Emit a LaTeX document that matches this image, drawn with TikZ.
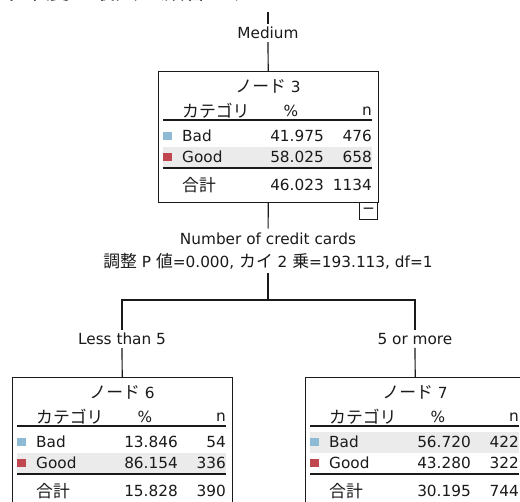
\documentclass[tikz,border=0pt]{standalone}
\usepackage{fontspec}
\setmainfont{DejaVu Sans}
\newfontfamily\ja[Scale=1.1]{Noto Sans CJK JP}
\usepackage{tikz}
\definecolor{badblue}{HTML}{8EBAD3}
\definecolor{goodred}{HTML}{C0474F}
\definecolor{bandgray}{HTML}{EBEBEB}
\definecolor{ink}{HTML}{1A1A1A}

\begin{document}
\begin{tikzpicture}[x=1pt, y=-1pt]
\tikzstyle{every node} = [font=\fontsize{15.3}{23}\selectfont, text=ink, inner sep=0pt]
\tikzstyle{lbl} = [inner sep=3pt, align=center]
\tikzstyle{box} = [draw=ink, line width=1pt, anchor=north west, minimum width=220pt, minimum height=131pt, fill=white]
\tikzstyle{rule} = [draw=ink, line width=1.3pt]
\tikzstyle{line} = [draw=ink, line width=1.2pt]
\useasboundingbox (0,0) rectangle (520,502);
\clip (0,0) rectangle (520,502);
\fill[white] (0,0) rectangle (520,502);
% cut-off heading
\node[anchor=base west, font=\fontsize{21}{24}\selectfont\ja] (head) at (0,0) {不確度の最大の顧客のグループを};
% tree nodes
\foreach \id/\L/\T/\bp/\bn/\gp/\gn/\tp/\tn/\hl in {3/158/71/41.975/476/58.025/658/46.023/1134/76, 6/12/377/13.846/54/86.154/336/15.828/390/76, 7/305/377/56.720/422/43.280/322/30.195/744/55} {
  \node[box] (box\id) at (\L,\T) {};
  \fill[bandgray] ({\L+5},{\T+\hl}) rectangle ({\L+214},{\T+\hl+21});
  \draw[rule] ({\L+5},{\T+49}) -- ({\L+214},{\T+49});
  \draw[rule] ({\L+5},{\T+97}) -- ({\L+214},{\T+97});
  \node (ttl\id) at ({\L+110},{\T+15}) {{\ja ノード} \id};
  \node[anchor=west] (cat\id) at ({\L+24},{\T+40}) {\ja カテゴリ};
  \node (pct\id) at ({\L+133},{\T+40}) {\%};
  \node[anchor=east] (cnt\id) at ({\L+214},{\T+40}) {n};
  \fill[badblue] ({\L+5},{\T+61}) rectangle ({\L+14},{\T+69});
  \node[anchor=west] (bad\id) at ({\L+24},{\T+65}) {Bad};
  \node[anchor=east] (badp\id) at ({\L+166},{\T+65}) {\bp};
  \node[anchor=east] (badn\id) at ({\L+214},{\T+65}) {\bn};
  \fill[goodred] ({\L+5},{\T+82}) rectangle ({\L+14},{\T+90});
  \node[anchor=west] (good\id) at ({\L+24},{\T+86}) {Good};
  \node[anchor=east] (goodp\id) at ({\L+166},{\T+86}) {\gp};
  \node[anchor=east] (goodn\id) at ({\L+214},{\T+86}) {\gn};
  \node[anchor=west] (sum\id) at ({\L+24},{\T+114}) {\ja 合計};
  \node[anchor=east] (sump\id) at ({\L+166},{\T+114}) {\tp};
  \node[anchor=east] (sumn\id) at ({\L+214},{\T+114}) {\tn};
}
\node[draw=ink, line width=1pt, anchor=north east, minimum width=18pt, minimum height=17pt] (fold3) at (378,202) {−};
% labels
\coordinate (root) at (268,12);
\node[lbl] (med) at (268,33) {Medium};
\node[lbl, inner sep=4pt] (split) at (268,251) {Number of credit cards\\{\ja 調整} P {\ja 値}=0.000, {\ja カイ} 2 {\ja 乗}=193.113, df=1};
\coordinate (fork) at (268,300);
\node[lbl] (less) at (122,339) {Less than 5};
\node[lbl] (more) at (415,339) {5 or more};
\foreach \from/\to in {root/med, med/box3, box3/split, split/fork, less/box6, more/box7}
\draw[line] (\from) -- (\to);
\draw[line] (fork) -| (less);
\draw[line] (fork) -| (more);
\end{tikzpicture}
\end{document}
